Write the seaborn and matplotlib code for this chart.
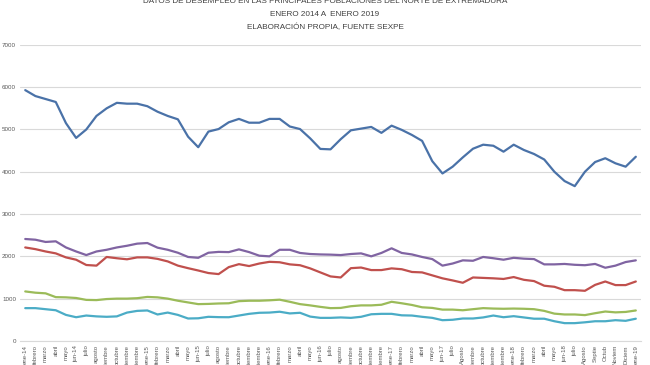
import numpy as np
import pandas as pd
import seaborn as sns
import matplotlib.pyplot as plt

# month labels (Jan 2014 - Jan 2019)
meses = ["ene-14", "febrero", "marzo", "abril", "mayo", "jun-14", "julio", "agosto",
         "septiembre", "octubre", "noviembre", "diciembre",
         "ene-15", "febrero", "marzo", "abril", "mayo", "jun-15", "julio", "agosto",
         "septiembre", "octubre", "noviembre", "diciembre",
         "ene-16", "febrero", "marzo", "abril", "mayo", "jun-16", "julio", "agosto",
         "septiembre", "octubre", "noviembre", "diciembre",
         "ene-17", "febrero", "marzo", "abril", "mayo", "jun-17", "julio", "Agosto",
         "septiembre", "octubre", "noviembre", "diciembre",
         "ene-18", "febrero", "marzo", "abril", "mayo", "jun-18", "julio", "Agosto",
         "Septie", "Octub", "Noviem", "Diciem", "ene-19"]

serie1 = [5930, 5790, 5720, 5650, 5150, 4800, 5000, 5320, 5500, 5630,
          5610, 5610, 5550, 5420, 5320, 5240, 4830, 4580, 4950, 5010,
          5170, 5250, 5160, 5160, 5250, 5250, 5070, 5010, 4790, 4540,
          4530, 4770, 4980, 5020, 5060, 4920, 5090, 4990, 4870, 4730,
          4250, 3960, 4120, 4340, 4545, 4640, 4615, 4475, 4640, 4515,
          4420, 4290, 4000, 3780, 3660, 4000, 4230, 4320, 4200, 4120,
          4355]
serie2 = [2210, 2170, 2115, 2070, 1975, 1920, 1795, 1780, 1985, 1955,
          1930, 1975, 1975, 1940, 1880, 1780, 1720, 1665, 1605, 1580,
          1745, 1815, 1770, 1830, 1870, 1860, 1810, 1790, 1715, 1620,
          1525, 1500, 1720, 1735, 1675, 1675, 1715, 1695, 1630, 1620,
          1550, 1480, 1430, 1375, 1500, 1490, 1480, 1465, 1510, 1445,
          1415, 1305, 1280, 1200, 1200, 1185, 1325, 1405, 1320, 1320,
          1405]
serie3 = [1170, 1140, 1125, 1035, 1030, 1015, 970, 965, 990, 1000,
          1000, 1010, 1040, 1030, 1000, 950, 910, 870, 875, 885,
          890, 940, 950, 950, 960, 975, 925, 870, 840, 805,
          775, 780, 820, 840, 840, 855, 925, 890, 850, 795,
          780, 740, 740, 725, 750, 775, 765, 760, 765, 760,
          750, 710, 645, 625, 625, 610, 655, 695, 675, 685,
          720]
serie4 = [2410, 2393, 2340, 2355, 2210, 2115, 2030, 2115, 2155, 2210,
          2250, 2300, 2315, 2205, 2155, 2085, 1985, 1965, 2085, 2105,
          2100, 2165, 2100, 2015, 2000, 2155, 2155, 2080, 2055, 2045,
          2040, 2030, 2055, 2070, 2000, 2080, 2190, 2080, 2045, 1985,
          1935, 1780, 1830, 1905, 1895, 1985, 1955, 1920, 1965, 1945,
          1935, 1810, 1810, 1820, 1800, 1790, 1820, 1730, 1780, 1865,
          1905]
serie5 = [775, 775, 750, 725, 615, 560, 600, 580, 570, 580,
          670, 710, 720, 625, 670, 615, 530, 535, 570, 562,
          560, 600, 640, 665, 670, 690, 650, 665, 575, 545,
          545, 555, 545, 570, 630, 640, 640, 605, 600, 570,
          545, 490, 500, 530, 530, 555, 600, 560, 585, 555,
          525, 525, 465, 420, 420, 440, 465, 465, 490, 475,
          525]

nombres = ["Serie 1", "Serie 2", "Serie 3", "Serie 4", "Serie 5"]
colores = ["#4a72a8", "#c0504d", "#9bbb59", "#8064a2", "#4bacc6"]

df = pd.concat([
    pd.DataFrame({"pos": np.arange(len(meses)), "valor": vals, "serie": n})
    for n, vals in zip(nombres, [serie1, serie2, serie3, serie4, serie5])
])

sns.set_style("white")
plt.rcParams['font.family'] = ['Liberation Sans', 'DejaVu Sans']

fig = plt.figure(figsize=(6.5, 3.65), dpi=100)
ax = fig.add_axes([0.031, 0.066, 0.955, 0.811])

sns.lineplot(data=df, x="pos", y="valor", hue="serie", palette=colores,
             linewidth=1.6, legend=False, ax=ax)

ax.set_xlim(-0.5, len(meses) - 0.5)
ax.set_ylim(0, 7000)
ax.set_yticks(range(0, 7001, 1000))
ax.yaxis.grid(True, color="#d9d9d9", linewidth=0.8)
ax.set_axisbelow(True)
for s in ax.spines.values():
    s.set_visible(False)
ax.spines["bottom"].set_visible(True)
ax.spines["bottom"].set_color("#d9d9d9")

# x labels are long and run off the bottom edge, as in the original
ax.set_xticks(range(len(meses)))
ax.set_xticklabels(meses, rotation=90, fontsize=4.3, color="#595959")
ax.tick_params(axis="y", labelsize=4.5, labelcolor="#595959", length=0, pad=3)
ax.tick_params(axis="x", length=0, pad=3)
ax.set_xlabel("")
ax.set_ylabel("")

fig.text(0.5, 0.995, "DATOS DE DESEMPLEO EN LAS PRINCIPALES POBLACIONES DEL NORTE DE EXTREMADURA",
         ha="center", va="center", fontsize=5.9, color="#404040")
fig.text(0.5, 0.96, "ENERO 2014 A  ENERO 2019", ha="center", va="center",
         fontsize=5.9, color="#404040")
fig.text(0.5, 0.924, "ELABORACIÓN PROPIA, FUENTE SEXPE", ha="center", va="center",
         fontsize=5.9, color="#404040")

fig.savefig("out.png", dpi=100, facecolor="white")
